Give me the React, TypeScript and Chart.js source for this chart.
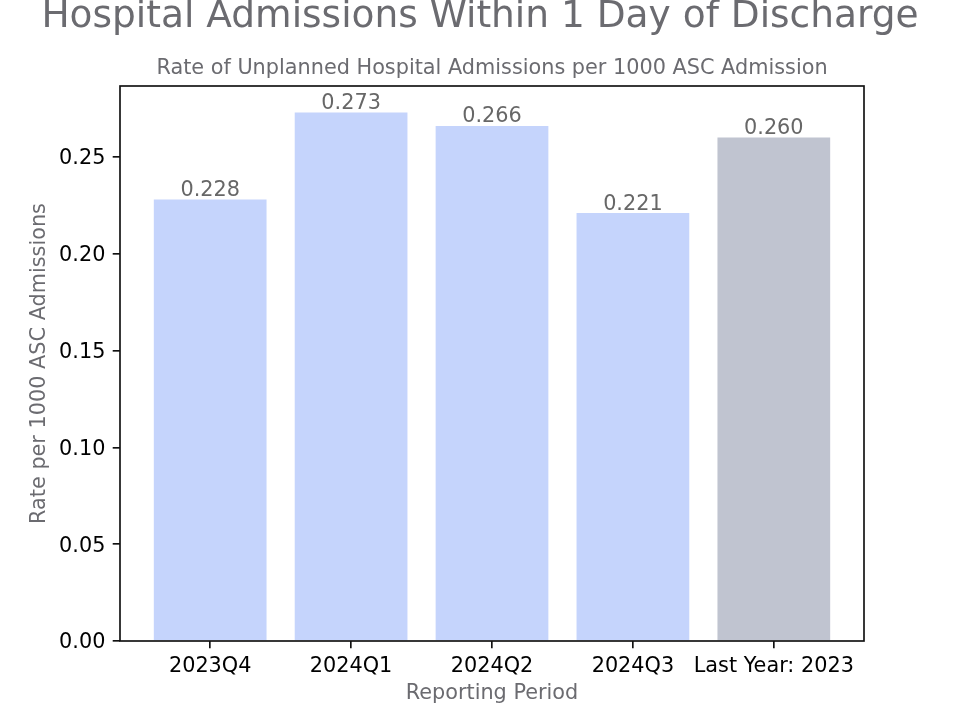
import React, { useEffect, useRef } from "react";
import { Chart, registerables } from "chart.js";

Chart.register(...registerables);

const categories = ["2023Q4", "2024Q1", "2024Q2", "2024Q3", "Last Year: 2023"];
const rates = [0.228, 0.273, 0.266, 0.221, 0.26];
const yTicks = [0, 0.05, 0.1, 0.15, 0.2, 0.25];
const barColors = ["#c5d4fc", "#c5d4fc", "#c5d4fc", "#c5d4fc", "#c0c4d0"];

const FONT = "'DejaVu Sans', sans-serif";
const GRAY = "#6b6b70";

const frame = {
  id: "frame",
  afterDatasetsDraw(chart: any) {
    const { ctx, chartArea } = chart;
    ctx.save();
    const meta = chart.getDatasetMeta(0);
    ctx.font = `20.8px ${FONT}`;
    ctx.fillStyle = "#676767";
    ctx.textAlign = "center";
    ctx.textBaseline = "alphabetic";
    meta.data.forEach((bar: any, i: number) => {
      ctx.fillText(rates[i].toFixed(3), bar.x, bar.y - 3.5);
    });
    ctx.strokeStyle = "#111";
    ctx.lineWidth = 1.67;
    ctx.strokeRect(chartArea.left, chartArea.top, chartArea.right - chartArea.left, chartArea.bottom - chartArea.top);
    ctx.restore();
  },
};

export default function App() {
  const ref = useRef<HTMLCanvasElement>(null);
  useEffect(() => {
    document.body.style.margin = "0";
    const yMax = Math.max(...rates) * 1.05;
    const chart = new Chart(ref.current!, {
      type: "bar",
      data: {
        datasets: [
          {
            data: rates.map((v, i) => ({ x: i, y: v })),
            backgroundColor: barColors,
            borderWidth: 0,
            categoryPercentage: 1,
            barPercentage: 0.8,
          },
        ],
      },
      options: {
        responsive: false,
        animation: false,
        events: [],
        layout: { padding: 0 },
        plugins: {
          legend: { display: false },
          tooltip: { enabled: false },
          title: {
            display: true,
            text: "Hospital Admissions Within 1 Day of Discharge",
            color: GRAY,
            font: { family: FONT, size: 37.5, weight: "normal", lineHeight: 0.8 },
            padding: { top: 2, bottom: 0 },
          },
          subtitle: {
            display: true,
            fullSize: false,
            text: "Rate of Unplanned Hospital Admissions per 1000 ASC Admission",
            color: GRAY,
            font: { family: FONT, size: 20.8, weight: "normal", lineHeight: 1.2 },
            padding: { top: 24, bottom: 5.04 },
          },
        },
        scales: {
          x: {
            type: "linear",
            position: "bottom",
            offset: false,
            min: -0.64,
            max: 4.64,
            afterBuildTicks: (s: any) => {
              s.ticks = categories.map((_, i) => ({ value: i }));
            },
            afterFit: (s: any) => {
              s.height = 79;
            },
            ticks: {
              autoSkip: false,
              maxRotation: 0,
              color: "#000",
              font: { family: FONT, size: 20.8 },
              padding: 5.8,
              callback: (v: any) => categories[v],
            },
            grid: { display: true, offset: false, drawOnChartArea: false, drawTicks: true, tickLength: 7.3, color: "#111", lineWidth: 1.67 },
            border: { display: false },
            title: {
              display: true,
              text: "Reporting Period",
              color: GRAY,
              font: { family: FONT, size: 20.8 },
              padding: { top: 13.5, bottom: 13.5 },
            },
          },
          y: {
            type: "linear",
            position: "left",
            min: 0,
            max: yMax,
            afterBuildTicks: (s: any) => {
              s.ticks = yTicks.map((v) => ({ value: v }));
            },
            afterFit: (s: any) => {
              s.width = 120;
            },
            ticks: {
              color: "#000",
              font: { family: FONT, size: 20.8 },
              padding: 7.3,
              labelOffset: 2,
              callback: (v: any) => Number(v).toFixed(2),
            },
            grid: { display: true, drawOnChartArea: false, drawTicks: true, tickLength: 7.3, color: "#111", lineWidth: 1.67 },
            border: { display: false },
            title: {
              display: true,
              text: "Rate per 1000 ASC Admissions",
              color: GRAY,
              font: { family: FONT, size: 20.8 },
              padding: { top: 27.5, bottom: 27.5 },
            },
          },
          yRight: {
            type: "linear",
            position: "right",
            display: true,
            ticks: { display: false },
            grid: { display: false },
            border: { display: false },
            afterFit: (s: any) => {
              s.width = 96;
            },
          },
        },
      } as any,
      plugins: [frame],
    });
    return () => chart.destroy();
  }, []);
  return (
    <div style={{ position: "absolute", left: 0, top: 0, width: 960, height: 720, background: "#fff" }}>
      <canvas ref={ref} width={960} height={720} />
    </div>
  );
}
